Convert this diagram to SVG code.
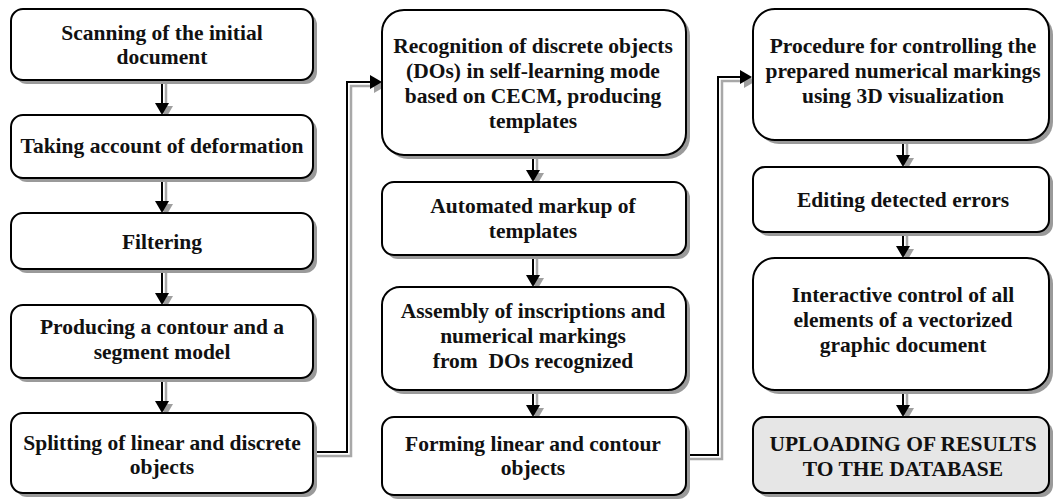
<svg xmlns="http://www.w3.org/2000/svg" xmlns:xlink="http://www.w3.org/1999/xlink" width="1054" height="499" viewBox="0 0 1054 499">
<style>
.sh{fill:#9a9a9a;stroke:none}
.bx{fill:#ffffff;stroke:#000;stroke-width:2}
.gr{fill:#e6e6e6;stroke:#000;stroke-width:2}
.t{font-family:'Liberation Serif','DejaVu Serif',serif;font-weight:700;font-size:21.5px;text-anchor:middle;fill:#111}
.cb{fill:none;stroke:#000;stroke-width:2}
.cg{fill:none;stroke:#a8a8a8;stroke-width:2.5}
.hb{fill:#000}
.hg{fill:#a0a0a0}
</style>
<defs>
<polygon id="hd" points="-7,-12 7,-12 0,0"/>
<polygon id="hr" points="-12,-7 -12,7 0,0"/>
</defs>
<rect width="1054" height="499" fill="#fff"/>

<g id="connectors">
  <g>
    <line class="cg" x1="166" y1="82" x2="166" y2="106"/>
    <use href="#hd" class="hg" x="166" y="118"/>
    <line class="cb" x1="162" y1="80" x2="162" y2="104"/>
    <use href="#hd" class="hb" x="162" y="115"/>

    <line class="cg" x1="166" y1="180" x2="166" y2="204"/>
    <use href="#hd" class="hg" x="166" y="216"/>
    <line class="cb" x1="162" y1="178" x2="162" y2="202"/>
    <use href="#hd" class="hb" x="162" y="213"/>

    <line class="cg" x1="166" y1="271" x2="166" y2="296"/>
    <use href="#hd" class="hg" x="166" y="308"/>
    <line class="cb" x1="162" y1="269" x2="162" y2="294"/>
    <use href="#hd" class="hb" x="162" y="305"/>

    <line class="cg" x1="166" y1="380" x2="166" y2="404"/>
    <use href="#hd" class="hg" x="166" y="416"/>
    <line class="cb" x1="162" y1="378" x2="162" y2="402"/>
    <use href="#hd" class="hb" x="162" y="413"/>
  </g>
  <g>
    <line class="cg" x1="537" y1="157" x2="537" y2="173"/>
    <use href="#hd" class="hg" x="537" y="185"/>
    <line class="cb" x1="533" y1="155" x2="533" y2="171"/>
    <use href="#hd" class="hb" x="533" y="182"/>

    <line class="cg" x1="537" y1="257" x2="537" y2="278"/>
    <use href="#hd" class="hg" x="537" y="290"/>
    <line class="cb" x1="533" y1="255" x2="533" y2="276"/>
    <use href="#hd" class="hb" x="533" y="287"/>

    <line class="cg" x1="537" y1="392" x2="537" y2="408"/>
    <use href="#hd" class="hg" x="537" y="420"/>
    <line class="cb" x1="533" y1="390" x2="533" y2="406"/>
    <use href="#hd" class="hb" x="533" y="417"/>
  </g>
  <g>
    <line class="cg" x1="907" y1="142" x2="907" y2="158"/>
    <use href="#hd" class="hg" x="907" y="170"/>
    <line class="cb" x1="903" y1="140" x2="903" y2="156"/>
    <use href="#hd" class="hb" x="903" y="167"/>

    <line class="cg" x1="907" y1="234" x2="907" y2="249"/>
    <use href="#hd" class="hg" x="907" y="261"/>
    <line class="cb" x1="903" y1="232" x2="903" y2="247"/>
    <use href="#hd" class="hb" x="903" y="258"/>

    <line class="cg" x1="907" y1="392" x2="907" y2="408"/>
    <use href="#hd" class="hg" x="907" y="420"/>
    <line class="cb" x1="903" y1="390" x2="903" y2="406"/>
    <use href="#hd" class="hb" x="903" y="417"/>
  </g>
  <g>
    <polyline class="cg" points="315,456 351,456 351,86 374,86"/>
    <use href="#hr" class="hg" x="386" y="86"/>
    <polyline class="cb" points="313,452 347,452 347,82 371,82"/>
    <use href="#hr" class="hb" x="382" y="82"/>
  </g>
  <g>
    <polyline class="cg" points="688,459 722,459 722,81 744,81"/>
    <use href="#hr" class="hg" x="756" y="81"/>
    <polyline class="cb" points="686,455 718,455 718,77 741,77"/>
    <use href="#hr" class="hb" x="752" y="77"/>
  </g>
</g>

<g id="n1">
  <rect class="sh" x="15" y="13" width="302" height="71" rx="12"/>
  <rect class="bx" x="11" y="9" width="302" height="71" rx="12"/>
  <text class="t" x="162" y="40">Scanning of the initial</text>
  <text class="t" x="162" y="64">document</text>
</g>
<g id="n2">
  <rect class="sh" x="15" y="119" width="302" height="63" rx="12"/>
  <rect class="bx" x="11" y="115" width="302" height="63" rx="12"/>
  <text class="t" x="162" y="153">Taking account of deformation</text>
</g>
<g id="n3">
  <rect class="sh" x="15" y="217" width="302" height="56" rx="12"/>
  <rect class="bx" x="11" y="213" width="302" height="56" rx="12"/>
  <text class="t" x="162" y="249">Filtering</text>
</g>
<g id="n4">
  <rect class="sh" x="15" y="309" width="302" height="73" rx="12"/>
  <rect class="bx" x="11" y="305" width="302" height="73" rx="12"/>
  <text class="t" x="162" y="334">Producing a contour and a</text>
  <text class="t" x="162" y="359">segment model</text>
</g>
<g id="n5">
  <rect class="sh" x="15" y="417" width="302" height="80" rx="12"/>
  <rect class="bx" x="11" y="413" width="302" height="80" rx="12"/>
  <text class="t" x="162" y="450">Splitting of linear and discrete</text>
  <text class="t" x="162" y="474">objects</text>
</g>

<g id="n6">
  <rect class="sh" x="386" y="14" width="304" height="145" rx="22"/>
  <rect class="bx" x="382" y="10" width="304" height="145" rx="22"/>
  <text class="t" x="533" y="53">Recognition of discrete objects</text>
  <text class="t" x="533" y="78">(DOs) in self-learning mode</text>
  <text class="t" x="533" y="103">based on CECM, producing</text>
  <text class="t" x="533" y="128">templates</text>
</g>
<g id="n7">
  <rect class="sh" x="386" y="186" width="304" height="73" rx="12"/>
  <rect class="bx" x="382" y="182" width="304" height="73" rx="12"/>
  <text class="t" x="533" y="213">Automated markup of</text>
  <text class="t" x="533" y="238">templates</text>
</g>
<g id="n8">
  <rect class="sh" x="386" y="291" width="304" height="103" rx="18"/>
  <rect class="bx" x="382" y="287" width="304" height="103" rx="18"/>
  <text class="t" x="533" y="318">Assembly of inscriptions and</text>
  <text class="t" x="533" y="343">numerical markings</text>
  <text class="t" x="533" y="368" xml:space="preserve">from  DOs recognized</text>
</g>
<g id="n9">
  <rect class="sh" x="386" y="421" width="304" height="78" rx="12"/>
  <rect class="bx" x="382" y="417" width="304" height="78" rx="12"/>
  <text class="t" x="533" y="451">Forming linear and contour</text>
  <text class="t" x="533" y="475">objects</text>
</g>

<g id="n10">
  <rect class="sh" x="757" y="13" width="296" height="131" rx="22"/>
  <rect class="bx" x="753" y="9" width="296" height="131" rx="22"/>
  <text class="t" x="903" y="53">Procedure for controlling the</text>
  <text class="t" x="903" y="78">prepared numerical markings</text>
  <text class="t" x="903" y="103">using 3D visualization</text>
</g>
<g id="n11">
  <rect class="sh" x="757" y="171" width="296" height="65" rx="12"/>
  <rect class="bx" x="753" y="167" width="296" height="65" rx="12"/>
  <text class="t" x="903" y="207">Editing detected errors</text>
</g>
<g id="n12">
  <rect class="sh" x="757" y="262" width="296" height="132" rx="22"/>
  <rect class="bx" x="753" y="258" width="296" height="132" rx="22"/>
  <text class="t" x="903" y="302">Interactive control of all</text>
  <text class="t" x="903" y="327">elements of a vectorized</text>
  <text class="t" x="903" y="352">graphic document</text>
</g>
<g id="n13">
  <rect class="sh" x="757" y="421" width="296" height="76" rx="12"/>
  <rect class="gr" x="753" y="417" width="296" height="76" rx="12"/>
  <text class="t" x="903" y="451">UPLOADING OF RESULTS</text>
  <text class="t" x="903" y="476">TO THE DATABASE</text>
</g>
</svg>
